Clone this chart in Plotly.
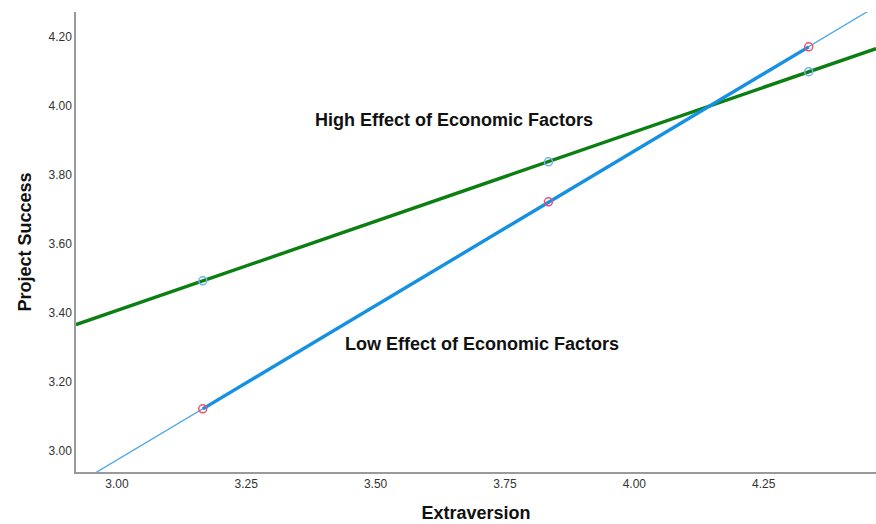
import numpy as np
import plotly.graph_objects as go

# Data
extraversion = [3.166, 3.834, 4.337]
high_effect = [3.493, 3.838, 4.099]
low_effect = [3.122, 3.722, 4.171]

x_ticks = [3.00, 3.25, 3.50, 3.75, 4.00, 4.25]
y_ticks = [3.00, 3.20, 3.40, 3.60, 3.80, 4.00, 4.20]

x_range = [2.921, 4.467]
y_range = [2.939, 4.272]

GREEN = "#0b7f12"
BLUE = "#1590e3"
BLUE_THIN = "#4aa6ec"
PINK = "#ef4f72"
LIGHTBLUE = "#73b3ec"

# regression lines through the plotted points, extended over the axis range
xs_ext = np.linspace(x_range[0], x_range[1], 50)
hi_fit = np.polyfit(extraversion, high_effect, 1)
lo_fit = np.polyfit(extraversion, low_effect, 1)

fig = go.Figure()

# thin blue extension line
fig.add_trace(go.Scatter(x=xs_ext, y=np.polyval(lo_fit, xs_ext), mode="lines",
                         line=dict(color=BLUE_THIN, width=1.3), hoverinfo="skip",
                         showlegend=False))
# green full line
fig.add_trace(go.Scatter(x=xs_ext, y=np.polyval(hi_fit, xs_ext), mode="lines",
                         line=dict(color=GREEN, width=3.4), hoverinfo="skip",
                         showlegend=False))
# thick blue between points
fig.add_trace(go.Scatter(x=extraversion, y=low_effect, mode="lines",
                         line=dict(color=BLUE, width=3.4), showlegend=False))
# markers
fig.add_trace(go.Scatter(x=extraversion, y=high_effect, mode="markers",
                         marker=dict(symbol="circle-open", size=8, color=LIGHTBLUE,
                                     line=dict(width=1.5, color=LIGHTBLUE)),
                         name="High", showlegend=False))
fig.add_trace(go.Scatter(x=extraversion, y=low_effect, mode="markers",
                         marker=dict(symbol="circle-open", size=8, color=PINK,
                                     line=dict(width=1.5, color=PINK)),
                         name="Low", showlegend=False))

fig.add_annotation(x=3.652, y=3.959, text="<b>High Effect of Economic Factors</b>",
                   showarrow=False, font=dict(size=18, color="#111"), xanchor="center", yanchor="middle")
fig.add_annotation(x=3.706, y=3.310, text="<b>Low Effect of Economic Factors</b>",
                   showarrow=False, font=dict(size=18, color="#111"), xanchor="center", yanchor="middle")

axis_common = dict(showgrid=False, zeroline=False, showline=True, linecolor="#9a9a9a",
                   linewidth=1.5, ticks="", tickfont=dict(size=12, color="#333"))

fig.update_layout(
    width=876, height=524,
    margin=dict(l=76, r=0, t=12, b=52),
    plot_bgcolor="white", paper_bgcolor="white",
    font=dict(family="Liberation Sans, Arial, sans-serif"),
    xaxis=dict(range=x_range, tickvals=x_ticks, ticktext=[f"{v:.2f}" for v in x_ticks],
               title=dict(text="<b>Extraversion</b>", font=dict(size=18, color="#111"), standoff=16),
               automargin=False, **axis_common),
    yaxis=dict(range=y_range, tickvals=y_ticks, ticktext=[f"{v:.2f}" for v in y_ticks],
               title=dict(text="<b>Project Success</b>", font=dict(size=18, color="#111"), standoff=12),
               automargin=False, **axis_common),
)

fig.write_html("out.html", config={"displayModeBar": False},
               post_script="document.body.style.margin='0';document.body.style.overflow='hidden';")
